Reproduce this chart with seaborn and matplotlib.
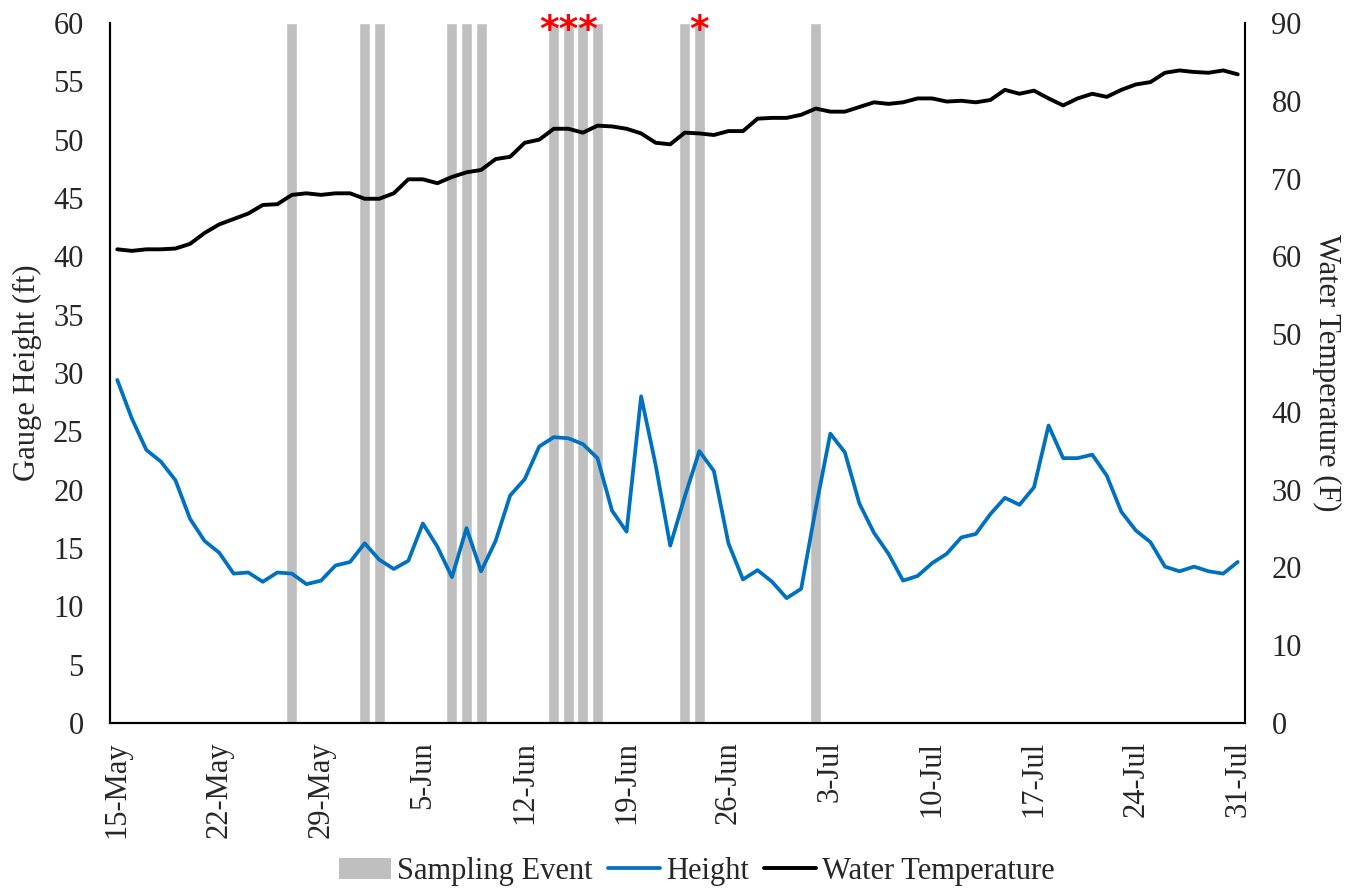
import matplotlib
matplotlib.use("Agg")
import matplotlib.pyplot as plt
from matplotlib.patches import Patch
from matplotlib.lines import Line2D
import seaborn as sns
import pandas as pd

# daily series, 15-May .. 31-Jul
dates = pd.date_range("2019-05-15", "2019-07-31", freq="D")
height = [29.4, 26.1, 23.4, 22.4, 20.8, 17.5, 15.6, 14.6, 12.8, 12.9,
          12.1, 12.9, 12.8, 11.9, 12.2, 13.5, 13.8, 15.4, 14.0, 13.2,
          13.9, 17.1, 15.1, 12.5, 16.7, 13.0, 15.6, 19.5, 20.9, 23.7,
          24.5, 24.4, 23.9, 22.7, 18.2, 16.4, 28.0, 22.1, 15.2, 19.4,
          23.3, 21.6, 15.4, 12.3, 13.1, 12.1, 10.7, 11.5, 18.4, 24.8,
          23.2, 18.8, 16.3, 14.5, 12.2, 12.6, 13.7, 14.5, 15.9, 16.2,
          17.9, 19.3, 18.7, 20.2, 25.5, 22.7, 22.7, 23.0, 21.2, 18.1,
          16.5, 15.5, 13.4, 13.0, 13.4, 13.0, 12.8, 13.8]
water_temp = [60.9, 60.7, 60.9, 60.9, 61.0, 61.6, 63.0, 64.1, 64.8, 65.5,
              66.6, 66.7, 67.9, 68.1, 67.9, 68.1, 68.1, 67.4, 67.4, 68.1,
              69.9, 69.9, 69.4, 70.2, 70.8, 71.1, 72.5, 72.8, 74.6, 75.0,
              76.4, 76.4, 75.9, 76.8, 76.7, 76.4, 75.8, 74.6, 74.4, 75.9,
              75.8, 75.6, 76.1, 76.1, 77.7, 77.8, 77.8, 78.2, 79.0, 78.6,
              78.6, 79.2, 79.8, 79.6, 79.8, 80.3, 80.3, 79.9, 80.0, 79.8,
              80.1, 81.4, 80.9, 81.3, 80.3, 79.4, 80.3, 80.9, 80.5, 81.4,
              82.1, 82.4, 83.6, 83.9, 83.7, 83.6, 83.9, 83.4]

sampling_events = ["2019-05-27", "2019-06-01", "2019-06-02", "2019-06-07",
                   "2019-06-08", "2019-06-09", "2019-06-14", "2019-06-15",
                   "2019-06-16", "2019-06-17", "2019-06-23", "2019-06-24",
                   "2019-07-02"]
starred_events = ["2019-06-14", "2019-06-15", "2019-06-16", "2019-06-24"]

BLUE = "#0070C0"
GREY = "#BFBFBF"

sns.set_theme(style="white")
plt.rcParams["font.family"] = ["Liberation Serif", "DejaVu Serif"]
plt.rcParams["axes.linewidth"] = 1.5

df = pd.DataFrame({"date": dates, "height": height, "temp": water_temp})
df["day"] = (df["date"] - dates[0]).dt.days
sample_day = [(pd.Timestamp(d) - dates[0]).days for d in sampling_events]
star_day = [(pd.Timestamp(d) - dates[0]).days for d in starred_events]

fig = plt.figure(figsize=(13.58, 8.91), dpi=100)
ax = fig.add_axes([0.081, 0.1886, 0.8358, 0.7856])

ax.bar(sample_day, 60, width=0.76, color=GREY, zorder=0)
sns.lineplot(data=df, x="day", y="height", ax=ax, color=BLUE, linewidth=2.7)

ax2 = ax.twinx()
sns.lineplot(data=df, x="day", y="temp", ax=ax2, color="black", linewidth=2.8)

# consecutive starred days share one "***" label
groups = []
for d in star_day:
    if groups and d == groups[-1][-1] + 1:
        groups[-1].append(d)
    else:
        groups.append([d])
for g in groups:
    ax.text(sum(g) / len(g), 59.3, "*" * len(g), color="red", fontsize=27,
            family="DejaVu Sans", fontweight="bold",
            ha="center", va="center", clip_on=False)

ax.set_xlim(-0.5, len(dates) - 0.5)
ax.set_ylim(0, 60)
ax2.set_ylim(0, 90)
ax.set_yticks(range(0, 61, 5))
ax2.set_yticks(range(0, 91, 10))
tick_days = list(range(0, len(dates), 7))
ax.set_xticks(tick_days)
ax.set_xticklabels([f"{dates[i].day}-{dates[i].strftime('%b')}" for i in tick_days],
                   rotation=90)

ax.tick_params(axis="x", length=0, pad=13, labelsize=22)
ax.tick_params(axis="y", length=0, pad=19, labelsize=22)
ax2.tick_params(axis="y", length=0, pad=19, labelsize=22)

ax.set_xlabel("")
ax.set_ylabel("Gauge Height (ft)", fontsize=22, labelpad=8)
ax2.set_ylabel("Water Temperature (F)", fontsize=22, rotation=270, labelpad=28)

for a in (ax, ax2):
    a.spines["top"].set_visible(False)
    for s in a.spines.values():
        s.set_color("black")
ax.spines["right"].set_visible(False)

handles = [Patch(facecolor=GREY, edgecolor="none"),
           Line2D([], [], color=BLUE, linewidth=2.7),
           Line2D([], [], color="black", linewidth=2.8)]
fig.legend(handles, ["Sampling Event", "Height", "Water Temperature"],
           loc="center", bbox_to_anchor=(0.513, 0.022), ncol=3, frameon=False,
           fontsize=22, handlelength=1.7, handletextpad=0.2, columnspacing=0.5)

fig.savefig("out.png", dpi=100, facecolor="white")
